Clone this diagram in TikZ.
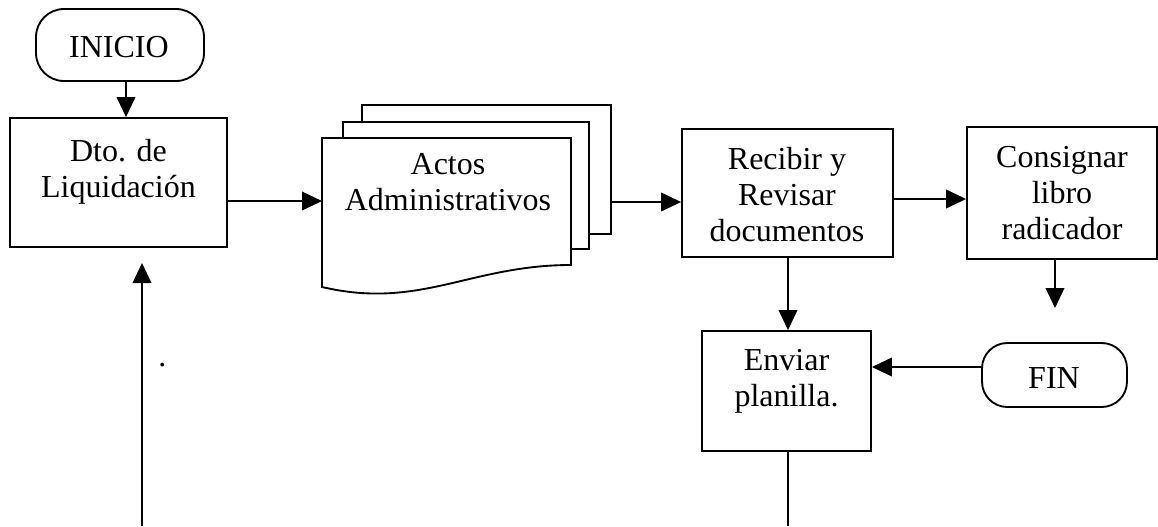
\documentclass[tikz,border=0pt]{standalone}
\usepackage{fontspec}
\setmainfont{Liberation Serif}
\usetikzlibrary{arrows.meta}

\tikzset{
  x=0.75pt, y=-0.75pt,
  boxline/.style={line width=1.4pt},
  box/.style={draw, boxline, rectangle, inner sep=0pt},
  term/.style={box, rounded corners=#1},
  conn/.style={line width=1.2pt},
  arr/.style={conn, -{Triangle[length=15pt,width=14pt]}},
  lbl/.style={font=\fontsize{24}{27}\selectfont, align=center, inner sep=0pt},
}

\begin{document}
\begin{tikzpicture}
\useasboundingbox (0,0) rectangle (1158,526);

% --- shapes ---
\node[term=21pt, minimum width=126pt, minimum height=54pt] (inicio) at (120,45) {};
\node[box, minimum width=162.75pt, minimum height=96.75pt] (dto) at (118.5,182.5) {};
\node[box, minimum width=158.25pt, minimum height=96pt] (recibir) at (787.5,193) {};
\node[box, minimum width=142.5pt, minimum height=99pt] (consignar) at (1062,193) {};
\node[box, minimum width=126.75pt, minimum height=90pt] (enviar) at (786.5,391) {};
\node[term=19pt, minimum width=108.75pt, minimum height=48pt] (fin) at (1054.5,375) {};

% stacked documents (back to front)
\draw[boxline] (589,234) -- (611,234) -- (611,105) -- (362,105) -- (362,122);
\draw[boxline] (571,249) -- (589,249) -- (589,122) -- (343,122) -- (343,138);
\draw[boxline, fill=white] (322,138) -- (571,138) -- (571,265)
  .. controls (470,265) and (420,310) .. (322,287) -- cycle;
\coordinate (actos-in) at (322,201);
\coordinate (actos-out) at (611,202);

% --- labels ---
\node[lbl] (inicio-t) at (119,49.8) {\strut INICIO};
\node[lbl] (dto-t) at (118.5,171.8) {\strut Dto. de\\\strut Liquidación};
\node[lbl] (actos-t) at (448,185) {\strut Actos\\\strut Administrativos};
\node[lbl] (recibir-t) at (787,198) {\strut Recibir y\\\strut Revisar\\\strut documentos};
\node[lbl] (consignar-t) at (1062,196) {\strut Consignar\\\strut libro\\\strut radicador};
\node[lbl] (enviar-t) at (786.5,381) {\strut Enviar\\\strut planilla.};
\node[lbl] (fin-t) at (1054,380.8) {\strut FIN};
\node[font=\fontsize{24}{27}\selectfont, inner sep=0pt, anchor=base west] (dot) at (158,366) {.};

% --- free ends ---
\coordinate (cons-end) at (1055,308);
\coordinate (env-end) at (788,526);
\coordinate (loop-bot) at (142,526);
\coordinate (loop-top) at (142,263);

% --- connectors ---
\draw[arr] (inicio.south -| 126,0) -- (dto.north -| 126,0);
\draw[arr] (dto.east |- actos-in) -- (actos-in);
\draw[arr] (actos-out) -- (recibir.west |- actos-out);
\draw[arr] (recibir.east |- 0,199) -- (consignar.west |- 0,199);
\draw[arr] (consignar.south -| cons-end) -- (cons-end);
\draw[arr] (recibir.south -| 788,0) -- (enviar.north -| 788,0);
\draw[arr] (fin.west |- 0,367) -- (enviar.east |- 0,367);
\draw[conn] (enviar.south -| env-end) -- (env-end);
\draw[arr] (loop-bot) -- (loop-top);
\end{tikzpicture}
\end{document}
